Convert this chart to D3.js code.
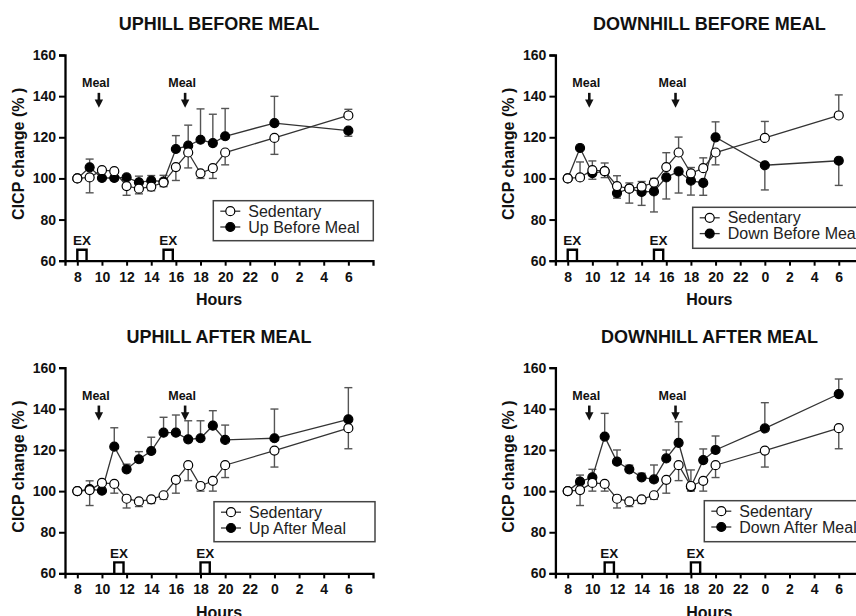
<!DOCTYPE html>
<html><head><meta charset="utf-8">
<script src="https://cdn.jsdelivr.net/npm/d3@7"></script>
<style>
body{margin:0;background:#fff}
svg{display:block;font-family:"Liberation Sans",Arial,sans-serif}
</style></head>
<body><svg id="c" width="856" height="616"></svg>
<script>
// ---------- DATA ----------
const hours = [8,9,10,11,12,13,14,15,16,17,18,19,20,24,30];
const tickHours = [8,10,12,14,16,18,20,22,24,26,28,30];
const tickLabels = ["8","10","12","14","16","18","20","22","0","2","4","6"];
const yTicks = [60,80,100,120,140,160];
const mealHours = [9.75,16.75];

const sedentary = [100,100.5,104,103.5,96.3,95,96,98,105.5,112.6,102.5,105,112.6,119.7,130.6];

const upBefore      = [100,105.4,100.2,100.2,100.5,98.1,98.9,98.5,114.3,115.9,118.8,117.2,120.5,126.9,123.2];
const upBeforeErr   = [0,4,0,0,0,3,2.5,3,6.5,10,15,14,13.5,13,-2.7];
const sedErrP1      = [0,-7.5,-4.5,-4,-4.5,-2.5,-2,-2,-6.5,-7.5,-2.5,-5,-6,-8,3];

const downBefore    = [100,114.8,102.6,103.4,92.9,95,93.4,93.7,100.5,103.4,98.9,97.8,120,106.4,108.6];
const downBeforeErr = [0,0,-3,-3,-2.5,-7,-6.5,-10,-10.5,-10.5,-7,-6,7.5,-12,-12];
const sedErrP2      = [0,7.5,4.5,4,5,2.8,2.5,2,7,7.5,2.8,5,-6,8,10];

const upAfter       = [100,101,100.2,121.6,110.6,115.5,119.5,128.4,128.4,125.2,125.7,131.8,124.9,125.7,134.9];
const upAfterErr    = [0,4,0,9.2,2.5,3.7,6.7,7.5,8.6,9,8.5,7.3,7.2,14.2,15.4];
const sedErrP3      = [0,-7.5,-4.5,-4.5,-4.5,-2.5,-2,-2,-6.5,-7.5,-2.5,-5,-6,-8,-10];

const downAfter     = [100,104.6,106.7,126.5,114.3,110.6,106.7,105.7,115.9,123.5,102.1,115.1,120,130.5,147.2];
const downAfterErr  = [0,3.2,3.9,11.3,5.7,2,2,7,4.1,10.2,8.2,5.4,6.8,12.5,7.3];
const sedErrP4      = [0,-7.5,-4,-3.5,-4.5,-2.5,-2,-2,-6.5,-7.5,-2.5,-5,-6,-8,-10];

const exBefore = [[8,8.75],[15,15.75]];
const exAfter  = [[11,11.75],[18,18.75]];

const panelTitles = ["UPHILL BEFORE MEAL","DOWNHILL BEFORE MEAL","UPHILL AFTER MEAL","DOWNHILL AFTER MEAL"];
const seriesNames = ["Up Before Meal","Down Before Meal","Up After Meal","Down After Meal"];

// ---------- LAYOUT ----------
const W = 308, H = 205.7;
const panels = [
  {x0:65,   y0:55,    title:panelTitles[0], name:seriesNames[0], ex:upBefore,   exErr:upBeforeErr,   sedErr:sedErrP1, bouts:exBefore, leg:{x:148.3,y:145.7,w:160,h:40}},
  {x0:555.4,y0:55,    title:panelTitles[1], name:seriesNames[1], ex:downBefore, exErr:downBeforeErr, sedErr:sedErrP2, bouts:exBefore, leg:{x:137.3,y:152.3,w:185,h:41}},
  {x0:65,   y0:367.7, title:panelTitles[2], name:seriesNames[2], ex:upAfter,    exErr:upAfterErr,    sedErr:sedErrP3, bouts:exAfter,  leg:{x:149,y:134,w:161,h:40}},
  {x0:555.4,y0:367.7, title:panelTitles[3], name:seriesNames[3], ex:downAfter,  exErr:downAfterErr,  sedErr:sedErrP4, bouts:exAfter,  leg:{x:148.9,y:133,w:185,h:41}}
];

const svg = d3.select("#c");
const x = d3.scaleLinear().domain([7,32]).range([0,W]);
const y = d3.scaleLinear().domain([60,160]).range([H,0]);
const lineCol = "#333", errCol = "#555";

panels.forEach(p => {
  const g = svg.append("g").attr("transform",`translate(${p.x0},${p.y0})`);

  // title
  g.append("text").attr("x",W/2).attr("y",-24.6).attr("text-anchor","middle")
    .attr("font-size",18).attr("font-weight","bold").attr("fill","#111").text(p.title);

  // axes
  const xa = g.append("g").attr("transform",`translate(0,${H})`)
    .call(d3.axisBottom(x).tickValues(tickHours).tickFormat((d,i)=>tickLabels[i]).tickSizeOuter(0).tickSize(5).tickPadding(6));
  const ya = g.append("g")
    .call(d3.axisLeft(y).tickValues(yTicks).tickSizeOuter(0).tickSize(6).tickPadding(3));
  [xa,ya].forEach(a=>{
    a.select(".domain").attr("stroke","#000").attr("stroke-width",2.3);
    a.selectAll(".tick line").attr("stroke","#000").attr("stroke-width",2);
    a.selectAll(".tick text").attr("font-size",14).attr("font-weight","bold").attr("fill","#111")
      .attr("font-family","'Liberation Sans',Arial,sans-serif");
  });

  // axis titles
  g.append("text").attr("x",W/2).attr("y",H+44.3).attr("text-anchor","middle")
    .attr("font-size",16).attr("font-weight","bold").attr("fill","#111").text("Hours");
  g.append("text").attr("transform",`translate(-47,${H/2-4}) rotate(-90)`).attr("text-anchor","middle")
    .attr("dominant-baseline","central").attr("font-size",16).attr("font-weight","bold").attr("fill","#111")
    .text("CICP change (% )");

  // Meal markers
  mealHours.forEach(m => {
    const cx = x(m);
    g.append("text").attr("x",cx-3).attr("y",y(146.5)).attr("dy","0.35em").attr("text-anchor","middle")
      .attr("font-size",12.5).attr("font-weight","bold").attr("fill","#111").text("Meal");
    g.append("line").attr("x1",cx).attr("x2",cx).attr("y1",y(141.6)).attr("y2",y(137.5))
      .attr("stroke","#111").attr("stroke-width",2.6);
    g.append("path").attr("d",`M${cx-4.2},${y(138.4)} L${cx+4.2},${y(138.4)} L${cx},${y(134.3)} Z`).attr("fill","#111");
  });

  // EX bouts
  p.bouts.forEach(b => {
    const x1 = x(b[0]), x2 = x(b[1]), yb = y(60), yt = y(60)-11;
    g.append("path").attr("d",`M${x1},${yb} L${x1},${yt} L${x2},${yt} L${x2},${yb}`)
      .attr("fill","none").attr("stroke","#000").attr("stroke-width",2.4);
    g.append("text").attr("x",(x1+x2)/2).attr("y",H-15.7).attr("text-anchor","middle")
      .attr("font-size",13.5).attr("font-weight","bold").attr("fill","#111").text("EX");
  });

  const sets = [
    {vals:p.ex, err:p.exErr, fill:"#000"},
    {vals:sedentary, err:p.sedErr, fill:"#fff"}
  ];

  // error bars
  sets.forEach(s => {
    s.vals.forEach((v,i) => {
      const e = s.err[i];
      if (!e) return;
      const cx = x(hours[i]);
      g.append("line").attr("x1",cx).attr("x2",cx).attr("y1",y(v)).attr("y2",y(v+e))
        .attr("stroke",errCol).attr("stroke-width",1.4);
      g.append("line").attr("x1",cx-4).attr("x2",cx+4).attr("y1",y(v+e)).attr("y2",y(v+e))
        .attr("stroke",errCol).attr("stroke-width",1.4);
    });
  });

  // lines
  const ln = d3.line().x((d,i)=>x(hours[i])).y(d=>y(d));
  sets.forEach(s => {
    g.append("path").attr("d",ln(s.vals)).attr("fill","none").attr("stroke",lineCol).attr("stroke-width",1.3);
  });

  // markers
  sets.forEach(s => {
    g.selectAll(null).data(s.vals).enter().append("circle")
      .attr("cx",(d,i)=>x(hours[i])).attr("cy",d=>y(d)).attr("r",4.5)
      .attr("fill",s.fill).attr("stroke","#000").attr("stroke-width",1.2);
  });

  // legend
  const L = p.leg;
  const lg = g.append("g").attr("transform",`translate(${L.x},${L.y})`);
  lg.append("rect").attr("width",L.w).attr("height",L.h).attr("fill","#fff").attr("stroke","#444").attr("stroke-width",1.5);
  [{label:"Sedentary",fill:"#fff",dy:10.5},{label:p.name,fill:"#000",dy:26.3}].forEach(it=>{
    lg.append("line").attr("x1",7).attr("x2",27).attr("y1",it.dy).attr("y2",it.dy).attr("stroke",lineCol).attr("stroke-width",1.3);
    lg.append("circle").attr("cx",17).attr("cy",it.dy).attr("r",4.5).attr("fill",it.fill).attr("stroke","#000").attr("stroke-width",1.2);
    lg.append("text").attr("x",35).attr("y",it.dy).attr("dy","0.35em").attr("font-size",16).attr("fill","#222").text(it.label);
  });
});
</script></body></html>
